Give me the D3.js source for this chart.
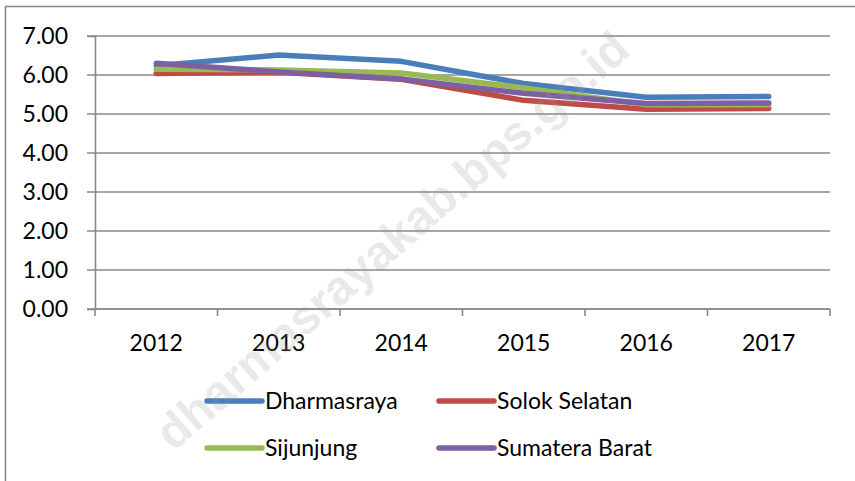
<!DOCTYPE html>
<html lang="id">
<head><meta charset="utf-8"/>
<script src="https://cdn.jsdelivr.net/npm/d3@7"></script>
<style>
body { margin: 0; background: #fff; }
svg text { font-family: Lato, "Open Sans", sans-serif; font-size: 23px; fill: #000; }
.grid line { stroke: #898989; stroke-width: 1.6px; }
.line { fill: none; stroke-width: 5.5px; stroke-linejoin: round; stroke-linecap: round; }
</style>
</head>
<body>
<svg id="chart" width="855" height="481"></svg>
<script>
// nilai
var years = ["2012", "2013", "2014", "2015", "2016", "2017"];
var names = ["Dharmasraya", "Solok Selatan", "Sijunjung", "Sumatera Barat"];
var dharmasraya = [6.24, 6.51, 6.35, 5.78, 5.43, 5.45];
var solokSelatan = [6.04, 6.07, 5.89, 5.35, 5.12, 5.14];
var sijunjung = [6.15, 6.13, 6.05, 5.67, 5.24, 5.24];
var sumateraBarat = [6.30, 6.08, 5.90, 5.53, 5.27, 5.28];
var yTicks = [0, 1, 2, 3, 4, 5, 6, 7];
var colors = ["#4a7ebb", "#be4b48", "#98b954", "#7d60a0"];

var series = [dharmasraya, solokSelatan, sijunjung, sumateraBarat].map((v, i) => ({
	name: names[i], color: colors[i], values: v
}));

var svg = d3.select("#chart");

// bingkai (hanya tepi kiri dan atas terlihat)
svg.append("rect")
	.attr("x", 5.5).attr("y", 6.5).attr("width", 1000).attr("height", 1000)
	.attr("fill", "none").attr("stroke", "#898989").attr("stroke-width", 1.6);

var x = d3.scaleBand().domain(years).range([95, 830]),
    y = d3.scaleLinear().domain([0, 7]).range([309, 36]);

// garis grid
svg.append("g").attr("class", "grid")
	.selectAll("line").data(yTicks).enter().append("line")
	.attr("x1", 87).attr("x2", 830)
	.attr("y1", d => y(d)).attr("y2", d => y(d));

// sumbu y
var gy = svg.append("g").attr("transform", "translate(95,0)")
	.call(d3.axisLeft(y).tickValues(yTicks).tickFormat(d3.format(".2f")).tickSize(8).tickPadding(19));
gy.select(".domain").attr("stroke", "#898989").attr("stroke-width", 1.6);
gy.selectAll(".tick line").remove();
gy.selectAll("text").style("font-size", "23px").attr("fill", "#000");

// sumbu x
var gx = svg.append("g").attr("transform", "translate(0," + y(0) + ")")
	.call(d3.axisBottom(x).tickSize(0).tickPadding(26));
gx.select(".domain").remove();
gx.selectAll("text").style("font-size", "23px").attr("fill", "#000");
var bounds = years.map(d => x(d)).concat([x.range()[1]]);
gx.selectAll(".bnd").data(bounds).enter().append("line")
	.attr("x1", d => d).attr("x2", d => d).attr("y1", 0).attr("y2", 7)
	.attr("stroke", "#898989").attr("stroke-width", 1.6);
gx.append("line").attr("x1", 95).attr("x2", 830).attr("y1", 0).attr("y2", 0)
	.attr("stroke", "#898989").attr("stroke-width", 1.6);

// garis data
var line = d3.line()
	.x((d, i) => x(years[i]) + x.bandwidth() / 2)
	.y(d => y(d));

svg.selectAll(".line").data(series).enter().append("path")
	.attr("class", "line")
	.attr("stroke", d => d.color)
	.attr("d", d => line(d.values));

// legenda
var legPos = [[207, 401], [439, 401], [207, 448], [439, 448]];
var leg = svg.selectAll(".leg").data(series).enter().append("g")
	.attr("transform", (d, i) => "translate(" + legPos[i][0] + "," + legPos[i][1] + ")");
leg.append("line").attr("x1", 0).attr("x2", 55).attr("y1", 0).attr("y2", 0)
	.attr("stroke", d => d.color).attr("stroke-width", 5.5).attr("stroke-linecap", "round");
leg.append("text").attr("x", 58).attr("y", 0).attr("dy", "0.35em").text(d => d.name);

// tanda air
svg.append("text")
	.attr("transform", "translate(392,240) rotate(-41)")
	.attr("text-anchor", "middle").attr("dy", "0.35em")
	.style("font-family", "'Liberation Sans', Arial, sans-serif")
	.style("font-size", "48px").style("font-weight", "bold")
	.style("fill", "#9a9a9a").style("fill-opacity", 0.22)
	.text("dharmasrayakab.bps.go.id");
</script>
</body>
</html>
